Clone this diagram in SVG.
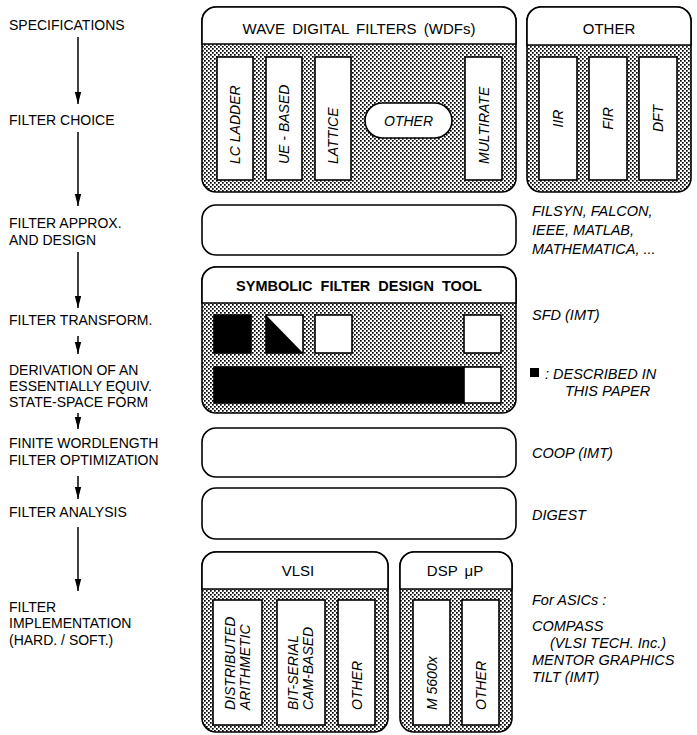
<svg xmlns="http://www.w3.org/2000/svg" width="697" height="735" viewBox="0 0 697 735">
<style>
.lbl{font-family:"Liberation Sans",Arial,sans-serif;font-size:14px;fill:#000}
.hdr{font-family:"Liberation Sans",Arial,sans-serif;font-size:15px;fill:#000;text-anchor:middle;word-spacing:3px}
.hdrb{font-family:"Liberation Sans",Arial,sans-serif;font-size:14.5px;font-weight:bold;fill:#000;text-anchor:middle;word-spacing:4px}
.vt{font-family:"Liberation Sans",Arial,sans-serif;font-size:14px;font-style:italic;fill:#000}
.note{font-family:"Liberation Sans",Arial,sans-serif;font-size:14.5px;font-style:italic;fill:#000}
.body{fill:url(#dots);stroke:#000;stroke-width:1.6}
.head{fill:#fff;stroke:#000;stroke-width:1.6}
.plain{fill:#fff;stroke:#000;stroke-width:1.6}
.cell{fill:#fff;stroke:#000;stroke-width:1.6}
.blk{fill:#000;stroke:#000;stroke-width:1.6}
.arr{stroke:#000;stroke-width:1.5;fill:none;marker-end:url(#ah)}
</style>
<defs>
<pattern id="dots" width="4" height="4" patternUnits="userSpaceOnUse">
<rect width="4" height="4" fill="#fff"/>
<rect x="0" y="0" width="1.7" height="1.7" fill="#000"/>
<rect x="2" y="2" width="1.7" height="1.7" fill="#000"/>
</pattern>
<marker id="ah" markerUnits="userSpaceOnUse" markerWidth="12" markerHeight="8" refX="12" refY="4" orient="auto">
<path d="M0,0.8 L12,4 L0,7.2 Z" fill="#000"/>
</marker>
</defs>
<rect width="697" height="735" fill="#fff"/>

<g id="steps">
<text class="lbl" x="9" y="30">SPECIFICATIONS</text>
<text class="lbl" x="9" y="125">FILTER CHOICE</text>
<text class="lbl" x="9" y="228">FILTER APPROX.</text>
<text class="lbl" x="9" y="245">AND DESIGN</text>
<text class="lbl" x="9" y="325">FILTER TRANSFORM.</text>
<text class="lbl" x="9" y="375">DERIVATION OF AN</text>
<text class="lbl" x="9" y="391">ESSENTIALLY EQUIV.</text>
<text class="lbl" x="9" y="407">STATE-SPACE FORM</text>
<text class="lbl" x="9" y="448">FINITE WORDLENGTH</text>
<text class="lbl" x="9" y="465">FILTER OPTIMIZATION</text>
<text class="lbl" x="9" y="517">FILTER ANALYSIS</text>
<text class="lbl" x="9" y="612">FILTER</text>
<text class="lbl" x="9" y="628">IMPLEMENTATION</text>
<text class="lbl" x="9" y="645">(HARD. / SOFT.)</text>
</g>

<g id="connectors">
<line class="arr" x1="78" y1="37" x2="78" y2="104"/>
<line class="arr" x1="78" y1="132" x2="78" y2="206"/>
<line class="arr" x1="78" y1="252" x2="78" y2="308"/>
<line class="arr" x1="78" y1="336" x2="78" y2="354"/>
<line class="arr" x1="78" y1="413" x2="78" y2="429"/>
<line class="arr" x1="78" y1="476" x2="78" y2="499"/>
<line class="arr" x1="78" y1="527" x2="78" y2="591"/>
</g>

<g id="wdf">
<rect class="body" x="202" y="7" width="314" height="185" rx="14"/>
<path class="head" d="M202,44 V21 A14,14 0 0 1 216,7 H502 A14,14 0 0 1 516,21 V44 Z"/>
<text class="hdr" x="359" y="34">WAVE DIGITAL FILTERS (WDFs)</text>
<rect class="cell" x="217" y="57" width="36" height="123"/>
<text class="vt" transform="translate(240,164) rotate(-90)">LC LADDER</text>
<rect class="cell" x="266" y="57" width="36" height="123"/>
<text class="vt" transform="translate(289,164) rotate(-90)">UE - BASED</text>
<rect class="cell" x="315" y="57" width="36" height="123"/>
<text class="vt" transform="translate(338,164) rotate(-90)">LATTICE</text>
<rect class="cell" x="365" y="103" width="87" height="35" rx="17.5"/>
<text class="vt" x="408.5" y="126" text-anchor="middle">OTHER</text>
<rect class="cell" x="465" y="57" width="37" height="123"/>
<text class="vt" transform="translate(488.5,164) rotate(-90)">MULTIRATE</text>
</g>

<g id="other">
<rect class="body" x="527" y="7" width="164" height="185" rx="14"/>
<path class="head" d="M527,45 V21 A14,14 0 0 1 541,7 H677 A14,14 0 0 1 691,21 V45 Z"/>
<text class="hdr" x="609" y="34">OTHER</text>
<rect class="cell" x="539" y="57" width="38" height="123"/>
<text class="vt" text-anchor="middle" transform="translate(563,118.5) rotate(-90)">IIR</text>
<rect class="cell" x="589" y="57" width="38" height="123"/>
<text class="vt" text-anchor="middle" transform="translate(613,118.5) rotate(-90)">FIR</text>
<rect class="cell" x="639" y="57" width="38" height="123"/>
<text class="vt" text-anchor="middle" transform="translate(663,118.5) rotate(-90)">DFT</text>
</g>

<g id="approx">
<rect class="plain" x="202" y="205" width="314" height="50" rx="14"/>
</g>

<g id="sfd">
<rect class="body" x="202" y="267" width="314" height="146" rx="14"/>
<path class="head" d="M202,303 V281 A14,14 0 0 1 216,267 H502 A14,14 0 0 1 516,281 V303 Z"/>
<text class="hdrb" x="359" y="291">SYMBOLIC FILTER DESIGN TOOL</text>
<rect class="blk" x="214" y="315" width="37" height="38"/>
<rect class="cell" x="266" y="315" width="37" height="38"/>
<path d="M266,315 L303,353 L266,353 Z" fill="#000"/>
<rect class="cell" x="315" y="315" width="37" height="38"/>
<rect class="cell" x="464" y="315" width="37" height="38"/>
<rect class="blk" x="214" y="367" width="250" height="36"/>
<rect class="cell" x="464" y="367" width="37" height="36"/>
</g>

<g id="coop">
<rect class="plain" x="202" y="428" width="314" height="49" rx="14"/>
</g>

<g id="analysis">
<rect class="plain" x="202" y="488" width="314" height="51" rx="14"/>
</g>

<g id="vlsi">
<rect class="body" x="202" y="552" width="186" height="180" rx="14"/>
<path class="head" d="M202,589 V566 A14,14 0 0 1 216,552 H374 A14,14 0 0 1 388,566 V589 Z"/>
<text class="hdr" x="298" y="576">VLSI</text>
<rect class="cell" x="213" y="600" width="49" height="125"/>
<text class="vt" transform="translate(235,710) rotate(-90)">DISTRIBUTED</text>
<text class="vt" transform="translate(250,710) rotate(-90)">ARITHMETIC</text>
<rect class="cell" x="277" y="600" width="48" height="125"/>
<text class="vt" transform="translate(298,710) rotate(-90)">BIT-SERIAL</text>
<text class="vt" transform="translate(313,710) rotate(-90)">CAM-BASED</text>
<rect class="cell" x="338" y="600" width="37" height="125"/>
<text class="vt" transform="translate(361.5,710) rotate(-90)">OTHER</text>
</g>

<g id="dsp">
<rect class="body" x="400" y="552" width="112" height="180" rx="14"/>
<path class="head" d="M400,589 V566 A14,14 0 0 1 414,552 H498 A14,14 0 0 1 512,566 V589 Z"/>
<text class="hdr" x="455" y="576">DSP μP</text>
<rect class="cell" x="413" y="600" width="37" height="125"/>
<text class="vt" transform="translate(436.5,710) rotate(-90)">M 5600x</text>
<rect class="cell" x="462" y="600" width="37" height="125"/>
<text class="vt" transform="translate(485.5,710) rotate(-90)">OTHER</text>
</g>

<g id="tools">
<text class="note" x="532" y="216">FILSYN, FALCON,</text>
<text class="note" x="532" y="235">IEEE, MATLAB,</text>
<text class="note" x="532" y="254">MATHEMATICA, ...</text>
<text class="note" x="532" y="320">SFD  (IMT)</text>
<rect x="530" y="368" width="9" height="9" fill="#000"/>
<text class="note" x="545" y="379">: DESCRIBED  IN</text>
<text class="note" x="565" y="396">THIS PAPER</text>
<text class="note" x="532" y="458">COOP  (IMT)</text>
<text class="note" x="532" y="520">DIGEST</text>
<text class="note" x="532" y="605">For  ASICs :</text>
<text class="note" x="532" y="631">COMPASS</text>
<text class="note" x="550" y="648">(VLSI  TECH. Inc.)</text>
<text class="note" x="532" y="665">MENTOR GRAPHICS</text>
<text class="note" x="532" y="682">TILT  (IMT)</text>
</g>
</svg>
